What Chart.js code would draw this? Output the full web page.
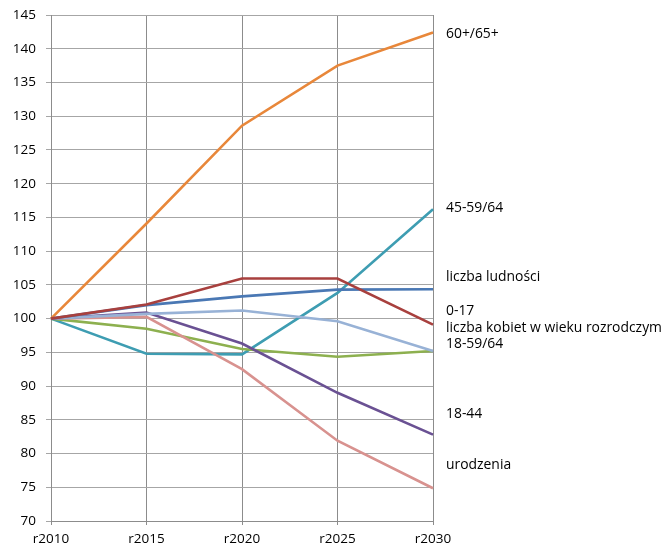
<!DOCTYPE html>
<html>
<head>
<meta charset="utf-8">
<script src="https://cdn.jsdelivr.net/npm/chart.js@4/dist/chart.umd.min.js"></script>
<style>
  html, body { margin: 0; padding: 0; background: #ffffff; }
  #wrap { width: 669px; height: 546px; position: relative; }
</style>
</head>
<body>
<div id="wrap"><canvas id="c"></canvas></div>
<script>
// Years on the horizontal axis
const years = ['r2010', 'r2015', 'r2020', 'r2025', 'r2030'];

// Index values (2010 = 100) for each group
const seniors      = [100, 114.1, 128.6, 137.5, 142.4];  // 60+/65+
const preRetire    = [100, 94.8, 94.7, 103.8, 116.2];    // 45-59/64
const population   = [100, 102.0, 103.3, 104.3, 104.35]; // liczba ludności
const children     = [100, 102.1, 105.95, 105.95, 99.1]; // 0-17
const womenFertile = [100, 100.7, 101.2, 99.6, 95.2];    // liczba kobiet w wieku rozrodczym
const workingAge   = [100, 98.5, 95.5, 94.35, 95.2];     // 18-59/64
const young        = [100, 100.9, 96.3, 89.0, 82.8];     // 18-44
const births       = [100, 100.25, 92.5, 81.9, 74.85];   // urodzenia

// Series names, shown next to the right edge of the plot
const seriesNames = ['60+/65+', '45-59/64', 'liczba ludności', '0-17',
  'liczba kobiet w wieku rozrodczym', '18-59/64', '18-44', 'urodzenia'];

// Vertical placement of each name, in axis units
const nameLevels = [142.2, 116.4, 106.2, 101.1, 98.6, 96.3, 85.9, 78.3];

const seriesColors = ['#E8873A', '#3E9DB2', '#4A78B4', '#A8403E',
  '#98B2D6', '#8DB04F', '#6A5193', '#D8928F'];

const seriesValues = [seniors, preRetire, population, children,
  womenFertile, workingAge, young, births];

// Draw in this order so the top layers look right where lines cross
const drawOrder = [1, 0, 5, 7, 6, 4, 2, 3];

const FONT = '"Open Sans", "Liberation Sans", sans-serif';

const seriesLabelsPlugin = {
  id: 'seriesLabels',
  afterDatasetsDraw(chart) {
    const { ctx, chartArea, scales } = chart;
    ctx.save();
    ctx.font = '13.9px ' + FONT;
    ctx.fillStyle = '#000000';
    ctx.textAlign = 'left';
    ctx.textBaseline = 'middle';
    seriesNames.forEach((name, i) => {
      ctx.fillText(name, chartArea.right + 13, scales.y.getPixelForValue(nameLevels[i]));
    });
    ctx.restore();
  }
};

const datasets = drawOrder.map(i => ({
  label: seriesNames[i],
  data: seriesValues[i],
  borderColor: seriesColors[i],
  backgroundColor: seriesColors[i],
  borderWidth: 2.6,
  pointRadius: 0,
  tension: 0,
  fill: false,
  order: drawOrder.length - drawOrder.indexOf(i)
}));

new Chart(document.getElementById('c'), {
  type: 'line',
  data: { labels: years, datasets },
  options: {
    responsive: true,
    maintainAspectRatio: false,
    animation: false,
    layout: { padding: { top: 15, right: 236, bottom: 0, left: 0 } },
    plugins: {
      legend: { display: false },
      tooltip: { enabled: false }
    },
    scales: {
      x: {
        offset: false,
        grid: { color: '#8c8c8c', lineWidth: 1, tickLength: 4, drawTicks: true },
        border: { color: '#8c8c8c' },
        ticks: { color: '#000000', font: { family: FONT, size: 13.5 }, padding: 6, maxRotation: 0 },
        afterFit(scale) { scale.height = 25; }
      },
      y: {
        min: 70,
        max: 145,
        ticks: { stepSize: 5, color: '#000000', font: { family: FONT, size: 13.5 }, padding: 10 },
        grid: { color: '#a6a6a6', lineWidth: 1, tickLength: 5 },
        border: { color: '#8c8c8c' },
        afterFit(scale) {
          scale.width = 51;
          scale.paddingTop = 0;
          scale.paddingBottom = 0;
        }
      }
    }
  },
  plugins: [seriesLabelsPlugin]
});
</script>
</body>
</html>
